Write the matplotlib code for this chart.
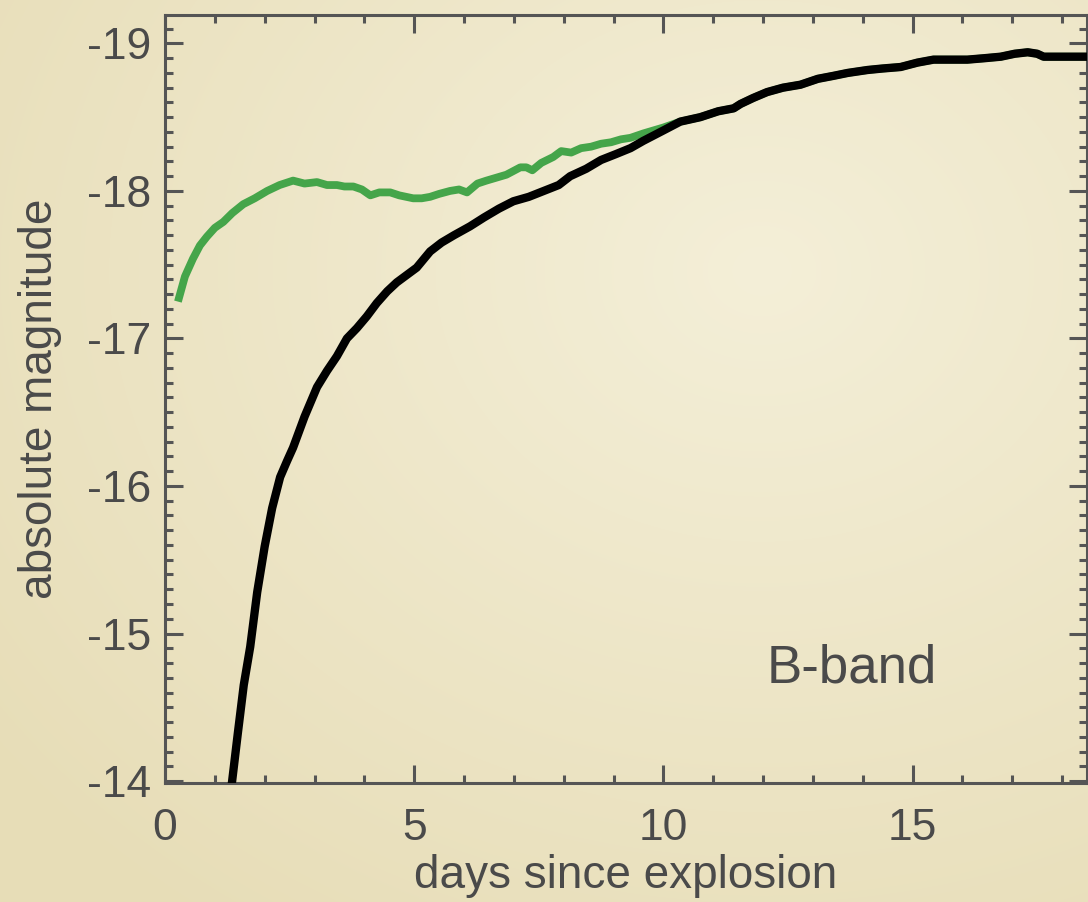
import numpy as np
import matplotlib
matplotlib.use("Agg")
import matplotlib.pyplot as plt
from matplotlib.ticker import MultipleLocator
from matplotlib.colors import to_rgb

plt.rcParams['font.family'] = ['Liberation Sans', 'DejaVu Sans']

# Model light curves, B-band absolute magnitude vs. days since explosion
days_green = [0.26, 0.40, 0.56, 0.70, 0.84, 1.00, 1.17, 1.35, 1.57, 1.80,
              2.05, 2.30, 2.57, 2.80, 3.05, 3.25, 3.45, 3.60, 3.78, 3.95,
              4.12, 4.30, 4.52, 4.70, 4.98, 5.15, 5.32, 5.50, 5.72, 5.90,
              6.06, 6.27, 6.45, 6.65, 6.85, 7.13, 7.25, 7.37, 7.55, 7.79,
              7.95, 8.15, 8.35, 8.55, 8.75, 8.95, 9.15, 9.34, 9.60, 9.80,
              10.00, 10.34, 10.74, 11.10, 11.41, 11.55, 11.80, 12.08, 12.40,
              12.75, 13.10, 13.41, 13.70, 14.10, 14.40, 14.76, 15.10, 15.42,
              15.80, 16.10, 16.45, 16.77, 17.05, 17.31, 17.50, 17.63, 18.00,
              18.50]
mag_green = [-17.25, -17.42, -17.54, -17.63, -17.69, -17.75, -17.79, -17.85,
             -17.91, -17.95, -18.00, -18.04, -18.07, -18.05, -18.06, -18.04,
             -18.04, -18.03, -18.03, -18.01, -17.97, -17.99, -17.99, -17.97,
             -17.95, -17.95, -17.96, -17.98, -18.00, -18.01, -17.99, -18.05,
             -18.07, -18.09, -18.11, -18.16, -18.16, -18.14, -18.19, -18.23,
             -18.27, -18.26, -18.29, -18.30, -18.32, -18.33, -18.35, -18.36,
             -18.39, -18.41, -18.43, -18.47, -18.50, -18.54, -18.56, -18.59,
             -18.63, -18.67, -18.70, -18.72, -18.76, -18.78, -18.80, -18.82,
             -18.83, -18.84, -18.87, -18.89, -18.89, -18.89, -18.90, -18.91,
             -18.93, -18.94, -18.93, -18.91, -18.91, -18.91]

days_black = [1.34, 1.46, 1.58, 1.71, 1.85, 2.00, 2.15, 2.31, 2.45, 2.57,
              2.80, 3.05, 3.25, 3.45, 3.65, 3.85, 4.05, 4.25, 4.46, 4.65,
              4.85, 5.05, 5.32, 5.55, 5.80, 6.12, 6.40, 6.70, 6.99, 7.30,
              7.60, 7.90, 8.13, 8.45, 8.75, 9.05, 9.34, 9.60, 10.00, 10.34,
              10.74, 11.10, 11.41, 11.55, 11.80, 12.08, 12.40, 12.75, 13.10,
              13.41, 13.70, 14.10, 14.40, 14.76, 15.10, 15.42, 15.80, 16.10,
              16.45, 16.77, 17.05, 17.31, 17.50, 17.63, 18.00, 18.50]
mag_black = [-13.98, -14.32, -14.65, -14.91, -15.28, -15.59, -15.85, -16.06,
             -16.17, -16.26, -16.47, -16.67, -16.78, -16.88, -17.00, -17.07,
             -17.15, -17.24, -17.32, -17.38, -17.43, -17.48, -17.59, -17.65,
             -17.70, -17.76, -17.82, -17.88, -17.93, -17.96, -18.00, -18.04,
             -18.10, -18.15, -18.21, -18.25, -18.29, -18.34, -18.41, -18.47,
             -18.50, -18.54, -18.56, -18.59, -18.63, -18.67, -18.70, -18.72,
             -18.76, -18.78, -18.80, -18.82, -18.83, -18.84, -18.87, -18.89,
             -18.89, -18.89, -18.90, -18.91, -18.93, -18.94, -18.93, -18.91,
             -18.91, -18.91]

band_label = "B-band"
x_ticks = [0, 5, 10, 15]
y_ticks = [-19, -18, -17, -16, -15, -14]

TEXT = '#4a4a4a'
AXC = '#555555'

fig = plt.figure(figsize=(10.88, 9.02), dpi=100)

# soft parchment-like backdrop: lighter toward the upper right, darker at edges
h, w = 902, 1088
yy, xx = np.mgrid[0:h, 0:w]
r = np.hypot((xx - 0.70 * w) / w, (yy - 0.30 * h) / h)
t = np.clip(r / 0.9, 0, 1)[..., None]
c_in = np.array(to_rgb('#f4efd8'))
c_out = np.array(to_rgb('#e7ddb7'))
bg = c_in * (1 - t) + c_out * t
fig.figimage(bg, xo=0, yo=0, origin='upper', zorder=-10)

ax = fig.add_axes([165 / 1088, 1 - 782.5 / 902, (1087 - 165) / 1088, (782.5 - 14.5) / 902])
ax.patch.set_alpha(0)

ax.plot(days_green, mag_green, color='#45a54a', lw=5.6, solid_capstyle='butt',
        solid_joinstyle='round', zorder=2)
ax.plot(days_black, mag_black, color='black', lw=6.0, solid_capstyle='butt',
        solid_joinstyle='round', zorder=3)

ax.set_xlim(0, 18.5)
ax.set_ylim(-13.99, -19.196)

ax.set_xticks(x_ticks)
ax.set_yticks(y_ticks)
ax.set_xticklabels([str(v) for v in x_ticks])
ax.set_yticklabels([str(v) for v in y_ticks])
ax.xaxis.set_minor_locator(MultipleLocator(1))
ax.yaxis.set_minor_locator(MultipleLocator(0.1))

for s in ax.spines.values():
    s.set_color(AXC)
    s.set_linewidth(2.2)
ax.tick_params(which='both', direction='in', top=True, right=True,
               color=AXC, width=2.2, labelcolor=TEXT, labelsize=32)
ax.tick_params(which='major', length=13)
ax.tick_params(which='minor', length=6)
ax.tick_params(axis='x', which='major', pad=18)
ax.tick_params(axis='y', which='major', pad=10)

ax.set_xlabel('days since explosion', fontsize=33, color=TEXT, labelpad=4)
ax.set_ylabel('absolute magnitude', fontsize=33, color=TEXT, labelpad=18)

ax.text(0.745, 0.148, band_label, transform=ax.transAxes, fontsize=38,
        color=TEXT, ha='center', va='center')

fig.savefig('out.png', dpi=100)
